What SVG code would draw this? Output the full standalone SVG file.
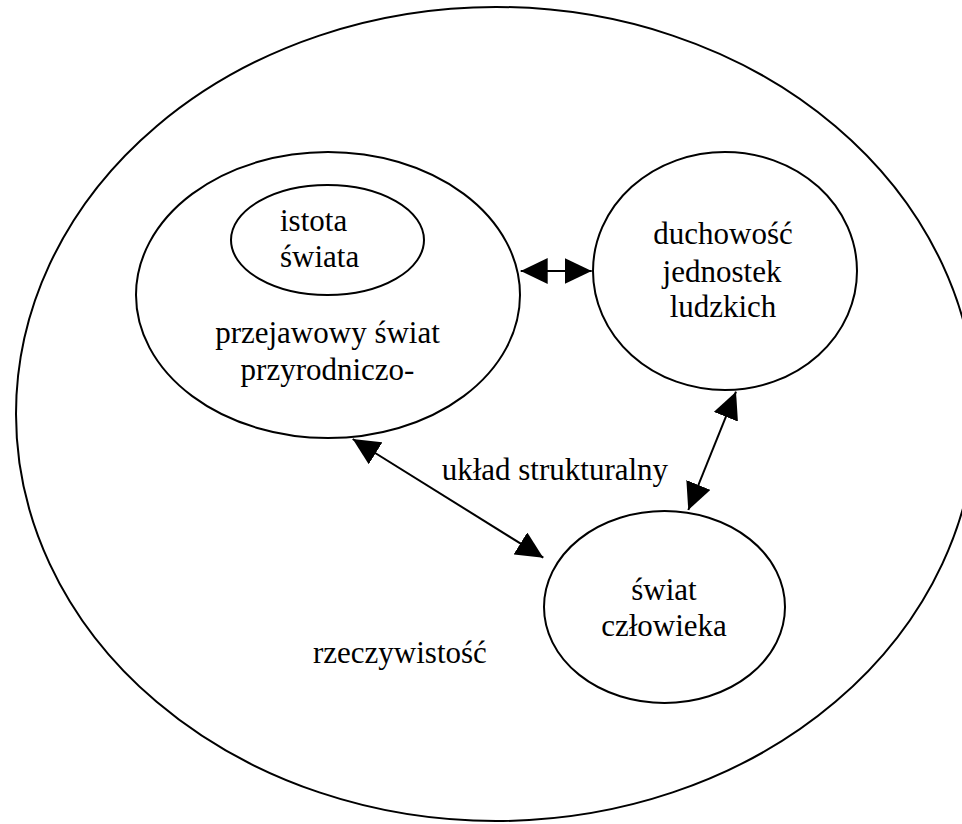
<svg xmlns="http://www.w3.org/2000/svg" width="962" height="824" viewBox="0 0 962 824" font-family="'Liberation Serif', 'Times New Roman', Tinos, 'DejaVu Serif', serif" font-size="31">
<style>
.n{fill:none;stroke:#000;stroke-width:2}
text{font-family:'Liberation Serif','Times New Roman',Tinos,'DejaVu Serif',serif;font-size:31px;fill:#000}
.c{text-anchor:middle}
.e{stroke:#000;stroke-width:2;fill:none}
</style>
<defs>
<marker id="ah" markerUnits="userSpaceOnUse" markerWidth="28" markerHeight="26" refX="27" refY="13" orient="auto-start-reverse" viewBox="0 0 28 26">
<path d="M0,0 L27,13 L0,26 z" fill="#000"/>
</marker>
</defs>
<rect width="962" height="824" fill="#fff"/>
<g id="rzeczywistosc">
<ellipse class="n" cx="496" cy="414" rx="480" ry="407"/>
<text x="313" y="663">rzeczywistość</text>
</g>
<g id="przejawowy">
<ellipse class="n" cx="328" cy="295" rx="192" ry="143"/>
<text class="c" x="327.5" y="343">przejawowy świat</text>
<text class="c" x="327.5" y="380">przyrodniczo-</text>
</g>
<g id="istota">
<ellipse class="n" cx="327.5" cy="240" rx="96.5" ry="55"/>
<text x="280" y="231">istota</text>
<text x="280" y="267">świata</text>
</g>
<g id="duchowosc">
<ellipse class="n" cx="725" cy="271" rx="132" ry="119"/>
<text class="c" x="723" y="244">duchowość</text>
<text class="c" x="722" y="281.5">jednostek</text>
<text class="c" x="723" y="317">ludzkich</text>
</g>
<g id="swiat-czlowieka">
<ellipse class="n" cx="664.5" cy="607" rx="120.5" ry="96"/>
<text class="c" x="664" y="600">świat</text>
<text class="c" x="664" y="636">człowieka</text>
</g>
<g id="connectors">
<line class="e" x1="520.7" y1="271" x2="591.7" y2="271" marker-start="url(#ah)" marker-end="url(#ah)"/>
<line class="e" x1="352.7" y1="439" x2="543.3" y2="557.7" marker-start="url(#ah)" marker-end="url(#ah)"/>
<line class="e" x1="736" y1="391.7" x2="688.3" y2="510" marker-start="url(#ah)" marker-end="url(#ah)"/>
<text x="441.7" y="480">układ strukturalny</text>
</g>
</svg>
